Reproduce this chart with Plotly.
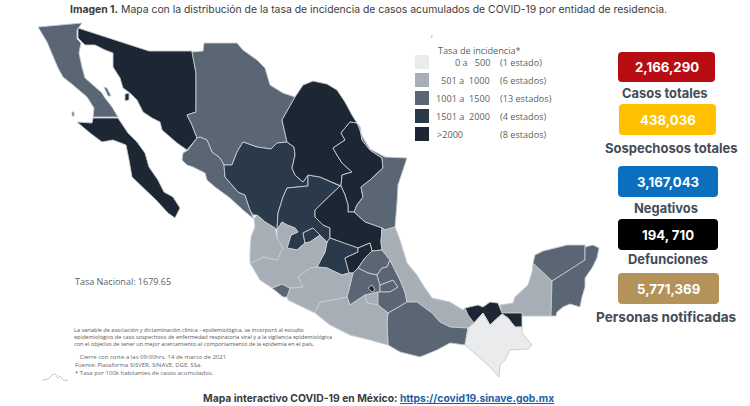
import plotly.graph_objects as go

# ---- data -------------------------------------------------------------
CLASS_COLORS = {"0-500": "#e9ebec", "501-1000": "#a8aeb6", "1001-1500": "#5a6673",
                "1501-2000": "#2b3a4b", ">2000": "#1c2733"}
BORDER = "#c6ccd2"

states = {
 "Baja California": ("1001-1500", [(38,27),(82,23),(77,30),(77,39),(81,43),(79,53),(82,67),(85,78),(93,85),(102,93),(105,98),(112,107),(118,117),(93,117),(94,108),(87,97),(73,85),(63,77),(58,68),(52,53),(47,42)]),
 "Baja California Sur": (">2000", [(77,122),(92,123),(93,118),(118,118),(128,133),(137,142),(145,153),(149,167),(158,180),(164,192),(173,197),(180,208),(175,218),(168,213),(156,200),(142,187),(132,177),(129,160),(126,145),(113,140),(102,142),(90,133)]),
 "Sonora": (">2000", [(78,28),(149,51),(192,51),(196,73),(196,90),(196,112),(187,115),(192,125),(197,138),(187,150),(177,143),(162,130),(160,122),(152,118),(143,112),(137,100),(130,93),(123,88),(120,78),(113,67),(113,53),(105,50),(95,45),(85,45),(78,38)]),
 "Chihuahua": ("1001-1500", [(192,52),(203,51),(204,43),(237,43),(243,50),(257,60),(265,68),(270,85),(283,93),(295,97),(282,120),(287,142),(277,143),(271,149),(257,147),(243,142),(237,152),(232,165),(224,165),(220,158),(212,152),(207,140),(200,137),(197,138),(192,125),(187,115),(196,112),(196,90),(196,73)]),
 "Sinaloa": ("1001-1500", [(200,137),(207,140),(212,152),(220,158),(224,165),(225,177),(232,185),(238,192),(245,195),(250,210),(254,219),(243,210),(230,198),(215,187),(207,180),(205,173),(193,167),(187,165),(182,160),(183,153),(188,150),(197,138)]),
 "Durango": ("1501-2000", [(224,165),(232,165),(237,152),(243,142),(257,147),(271,149),(277,143),(287,142),(294,147),(295,155),(292,168),(295,175),(303,182),(308,175),(308,186),(287,188),(283,197),(278,213),(277,230),(275,228),(265,222),(257,215),(253,215),(250,210),(245,195),(238,192),(232,185),(225,177)]),
 "Zacatecas": ("1501-2000", [(308,175),(320,177),(340,186),(315,210),(315,217),(323,225),(330,228),(330,238),(327,242),(320,235),(313,228),(303,233),(305,243),(297,250),(287,248),(291,235),(298,232),(295,228),(287,225),(282,222),(277,230),(278,213),(283,197),(287,188),(308,186)]),
 "Aguascalientes": ("1501-2000", [(303,233),(313,228),(320,235),(310,242),(305,243)]),
 "Coahuila": (">2000", [(295,97),(303,85),(313,81),(327,84),(337,90),(345,102),(352,115),(357,123),(350,122),(345,128),(341,133),(345,140),(333,148),(337,155),(342,163),(352,172),(342,175),(341,186),(320,177),(308,175),(303,182),(295,175),(292,168),(295,155),(294,147),(287,142),(282,120)]),
 "Nuevo Leon": (">2000", [(357,123),(350,122),(345,128),(341,133),(345,140),(333,148),(337,155),(342,163),(352,172),(342,175),(341,186),(345,195),(348,205),(348,212),(354,212),(357,205),(363,197),(361,187),(370,180),(383,168),(382,158),(370,150),(362,140),(360,127)]),
 "Tamaulipas": ("1001-1500", [(357,123),(363,138),(370,149),(385,157),(407,158),(403,170),(398,185),(397,203),(395,227),(385,230),(382,228),(365,222),(355,213),(354,212),(357,205),(363,197),(361,187),(370,180),(383,168),(382,158),(370,150),(362,140),(360,127)]),
 "San Luis Potosi": (">2000", [(340,186),(341,186),(345,195),(348,205),(348,212),(354,212),(355,213),(365,222),(382,228),(381,242),(382,250),(372,251),(370,243),(358,248),(343,243),(330,238),(330,228),(323,225),(315,217),(315,210)]),
 "Guanajuato": ("1501-2000", [(330,238),(343,243),(358,248),(358,252),(345,258),(349,273),(342,275),(327,268),(317,267),(325,252),(327,242)]),
 "Queretaro": (">2000", [(345,258),(358,252),(358,248),(370,243),(372,251),(365,258),(358,268),(353,273),(349,273)]),
 "Hidalgo": ("1001-1500", [(372,251),(382,250),(390,260),(387,267),(382,268),(377,275),(368,273),(358,268),(365,258)]),
 "Mexico": ("1001-1500", [(353,273),(358,268),(368,273),(377,275),(380,285),(380,292),(378,292),(365,295),(350,305),(347,297)]),
 "Ciudad de Mexico": (">2000", [(368,288),(372,285),(375,290),(372,292)]),
 "Morelos": ("501-1000", [(365,295),(378,292),(378,305),(367,303)]),
 "Tlaxcala": ("1001-1500", [(380,285),(393,280),(398,287),(390,292),(380,292)]),
 "Puebla": ("1001-1500", [(390,260),(395,270),(400,280),(405,292),(407,302),(397,308),(388,313),(378,305),(378,292),(390,292),(398,287),(393,280),(380,285),(377,275),(382,268),(387,267)]),
 "Veracruz": ("501-1000", [(395,227),(400,240),(407,263),(417,275),(423,285),(432,298),(450,302),(463,310),(465,308),(468,315),(474,323),(468,328),(450,327),(440,322),(432,313),(417,302),(407,302),(405,292),(400,280),(395,270),(390,260),(382,250),(381,242),(382,228),(385,230)]),
 "Oaxaca": ("1001-1500", [(407,302),(417,302),(432,313),(440,322),(450,327),(468,328),(465,345),(450,343),(437,350),(420,357),(400,352),(388,345),(387,322),(388,313),(397,308)]),
 "Guerrero": ("501-1000", [(315,313),(320,302),(347,297),(350,305),(365,295),(367,303),(378,305),(388,313),(387,322),(388,345),(370,340),(350,335),(330,325)]),
 "Michoacan": ("501-1000", [(298,277),(310,268),(317,267),(327,268),(342,275),(349,273),(353,273),(347,297),(320,302),(315,313),(288,300),(287,297),(290,288),(303,287)]),
 "Colima": ("1001-1500", [(272,288),(282,284),(290,288),(287,297),(283,297),(277,292)]),
 "Jalisco": ("501-1000", [(258,260),(263,257),(277,260),(283,248),(277,238),(277,230),(282,222),(287,225),(295,228),(298,232),(291,235),(287,248),(297,250),(305,243),(310,242),(320,235),(327,242),(325,252),(317,267),(310,268),(298,277),(303,287),(290,288),(282,284),(272,288),(260,280),(250,263)]),
 "Nayarit": ("501-1000", [(254,219),(257,215),(265,222),(275,228),(277,238),(283,248),(277,260),(263,257),(258,260),(250,263),(250,253),(251,237),(255,227)]),
 "Campeche": ("501-1000", [(500,305),(513,303),(515,297),(528,285),(532,272),(533,263),(552,281),(551,316),(522,316),(522,313),(508,313),(502,313)]),
 "Tabasco": (">2000", [(465,308),(478,305),(483,307),(490,302),(498,303),(502,313),(508,313),(522,313),(522,327),(515,327),(508,318),(502,314),(490,325),(483,313),(474,323),(468,315)]),
 "Yucatan": ("1001-1500", [(533,263),(535,255),(543,251),(567,245),(585,245),(585,260),(573,268),(552,281)]),
 "Quintana Roo": ("1001-1500", [(552,281),(573,268),(585,260),(585,247),(593,245),(599,248),(597,258),(592,268),(585,278),(585,287),(582,297),(580,307),(570,304),(563,307),(557,312),(556,316),(551,316)]),
 "Chiapas": ("0-500", [(468,328),(474,323),(483,313),(490,325),(502,314),(508,318),(515,327),(522,327),(522,333),(532,345),(528,349),(510,350),(505,360),(500,365),(499,377),(490,367),(480,358),(465,345)]),
 "Isla Tiburon": (">2000", [(125,94),(129,93),(129,100),(125,101)]),
 "Isla Angel": ("1001-1500", [(104,87),(107,88),(111,96),(108,96)]),
 "Isla Guadalupe": ("1001-1500", [(72,112),(74,112),(74,116),(72,116)]),
}

legend_title = "Tasa de incidencia*"
legend_classes = ["0-500", "501-1000", "1001-1500", "1501-2000", ">2000"]
legend_ranges = ["0 a   500", "501 a  1000", "1001 a  1500", "1501 a  2000", ">2000"]
legend_counts = ["(1 estado)", "(6 estados)", "(13 estados)", "(4 estados)", "(8 estados)"]

kpi_values = ["2,166,290", "438,036", "3,167,043", "194, 710", "5,771,369"]
kpi_labels = ["Casos totales", "Sospechosos totales", "Negativos", "Defunciones", "Personas notificadas"]
kpi_colors = ["#b60c12", "#ffc000", "#0b6fc0", "#000000", "#b4935a"]

note_lines = [
 "La variable de asociación y dictaminación clínica - epidemiológica, se incorporó al estudio",
 "epidemiológico de caso sospechoso de enfermedad respiratoria viral y a la vigilancia epidemiológica",
 "con el objetivo de tener un mejor acercamiento al comportamiento de la epidemia en el país.",
]
source_lines = [
 "&nbsp;&nbsp;&nbsp;Cierre con corte a las 09:00hrs, 14 de marzo de 2021",
 "Fuente: Plataforma SISVER, SINAVE, DGE, SSa.",
 "* Tasa por 100k habitantes de casos acumulados.",
]
logo_x = [42, 48, 52, 55, 58, 60, 63, 68]
logo_y = [380, 379, 375, 374, 378, 376, 380, 380]

# ---- figure -----------------------------------------------------------
fig = go.Figure()
for name, (cls, pts) in states.items():
    xs = [p[0] for p in pts] + [pts[0][0]]
    ys = [p[1] for p in pts] + [pts[0][1]]
    fig.add_trace(go.Scatter(x=xs, y=ys, mode="lines", fill="toself", name=name,
                             fillcolor=CLASS_COLORS[cls],
                             line=dict(color=BORDER, width=0.9),
                             hoverinfo="name", showlegend=False))
fig.add_trace(go.Scatter(x=logo_x, y=logo_y, mode="lines", showlegend=False, hoverinfo="skip",
                         line=dict(color="#a9afb5", width=0.7, shape="spline")))

shapes, ann = [], []
def text(x, y, s, size, color="#444444", family="Open Sans", anchor="left"):
    dx = {"left": -2, "right": 2, "center": 0}[anchor]
    ann.append(dict(x=x + dx, y=y, xref="x", yref="y", text=s, showarrow=False, xanchor=anchor,
                    yanchor="middle", align=anchor,
                    font=dict(size=size, color=color, family=family)))

def round_rect(x0, y0, x1, y1, r, color):
    path = (f"M{x0+r},{y0} L{x1-r},{y0} Q{x1},{y0} {x1},{y0+r} L{x1},{y1-r} Q{x1},{y1} {x1-r},{y1} "
            f"L{x0+r},{y1} Q{x0},{y1} {x0},{y1-r} L{x0},{y0+r} Q{x0},{y0} {x0+r},{y0} Z")
    shapes.append(dict(type="path", path=path, xref="x", yref="y", fillcolor=color, line_width=0, layer="below"))

# title
text(70, 9, "<b>Imagen 1.</b> Mapa con la distribución de la tasa de incidencia de casos acumulados de COVID-19 por entidad de residencia.",
     10.4, "#3c3c3c", "Inter")

# legend
text(431, 36, "ı", 6, "#777777")
text(438, 50, legend_title, 9.15, "#5b5f64")
sw_y = [55, 73, 91, 109, 127]
for i, c in enumerate(legend_classes):
    shapes.append(dict(type="rect", x0=415, x1=429, y0=sw_y[i], y1=sw_y[i]+14, xref="x", yref="y",
                       fillcolor=CLASS_COLORS[c], line_width=0, layer="below"))
    if i < 4:
        text(490, sw_y[i]+7, legend_ranges[i], 9.15, "#5b5f64", anchor="right")
    else:
        text(437, sw_y[i]+7, legend_ranges[i], 9.15, "#5b5f64")
    text(500, sw_y[i]+7, legend_counts[i], 9.15, "#5b5f64")

# KPI cards
box_x0 = [618, 619, 618, 618, 618]
box_x1 = [715, 716, 718, 718, 719]
box_y0 = [52, 104, 166, 219, 273]
box_y1 = [82, 135, 197, 250, 304]
lab_y = [93, 148, 208, 259, 317]
lab_cx = [664.5, 671, 666, 668, 666]
lab_size = [12.9, 13, 12.9, 12.9, 13.6]
for i in range(5):
    round_rect(box_x0[i], box_y0[i], box_x1[i], box_y1[i], 4, kpi_colors[i])
    cx = (box_x0[i] + box_x1[i]) / 2
    text(cx, (box_y0[i]+box_y1[i])/2, f"<b>{kpi_values[i]}</b>", 13.2, "#ffffff", "Inter", "center")
    text(lab_cx[i], lab_y[i], f"<b>{kpi_labels[i]}</b>", lab_size[i], "#444c58", "Inter", "center")

# side notes
text(75, 281, "Tasa Nacional: 1679.65", 9, "#5b5f64")
text(74, 337.3, "<br>".join(note_lines), 5.55, "#555555")
text(75, 365, "<br>".join(source_lines), 6.0, "#666666")

# footer
text(378, 398, '<b>Mapa interactivo COVID-19 en México: <span style="color:#1f5fa8"><u>https://covid19.sinave.gob.mx</u></span></b>',
     10.35, "#3c3c3c", "Inter", "center")

fig.update_layout(width=750, height=406, margin=dict(l=0, r=0, t=0, b=0),
                  plot_bgcolor="white", paper_bgcolor="white", showlegend=False,
                  shapes=shapes, annotations=ann,
                  xaxis=dict(range=[0, 750], visible=False, fixedrange=True),
                  yaxis=dict(range=[406, 0], visible=False, fixedrange=True))
fig.write_html("out.html", post_script="document.body.style.margin='0';document.body.style.overflow='hidden';",
               config={"displayModeBar": False})
